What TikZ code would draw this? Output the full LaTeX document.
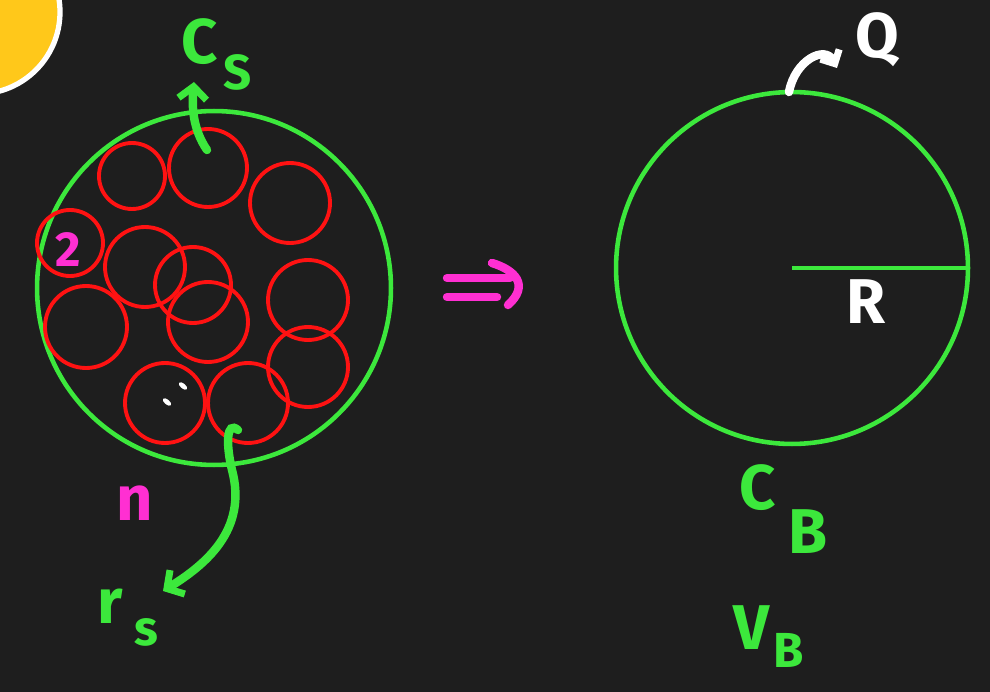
\documentclass[tikz,border=0pt]{standalone}
\usepackage{fontspec}
\setmainfont{Fira Sans}
\usepackage{tikz}
\usetikzlibrary{arrows.meta}

\definecolor{board}{HTML}{1E1E1E}
\definecolor{chalkgreen}{HTML}{3CE83C}
\definecolor{chalkred}{HTML}{FF1212}
\definecolor{chalkpink}{HTML}{FF2FD2}
\definecolor{sunyellow}{HTML}{FFC81A}

\tikzset{
  shell/.style={draw=chalkgreen, line width=2.6pt, circle, inner sep=0pt},
  ball/.style={chalkred, line width=2.2pt},
  pen/.style={line width=4.8pt, line cap=round},
  tip/.style={-{Straight Barb[length=7pt, width=16pt, line width=4pt]}},
  biglbl/.style={font=\bfseries\fontsize{36}{40}\selectfont, inner sep=0pt},
  sublbl/.style={font=\bfseries\fontsize{28}{32}\selectfont, inner sep=0pt},
}

\begin{document}
\begin{tikzpicture}[x=0.02cm, y=-0.02cm]
\fill[board] (0,0) rectangle (990,692);
\useasboundingbox (0,0) rectangle (990,692);
\begin{scope}
\clip (0,0) rectangle (990,692);
\draw[white, line width=3pt, fill=sunyellow] (-22,12) circle[radius=82];
\end{scope}

% many small spheres inside one cloud
\node[shell, minimum size=7.08cm] (cloud) at (214,288) {};
\foreach \x/\y/\r in {132/176/33, 208/168/39, 290/203/40, 70/243/33, 145/267/40,
  193/285/38, 208/322/40, 308/300/40, 86/327/41, 308/367/40, 165/403/40, 248/403/40}
  \draw[ball] (\x,\y) circle[radius=\r];
\node[chalkpink, sublbl] (two) at (68,250) {2};
\fill[white, rotate around={-40:(167,402)}] (167,402) ellipse[x radius=5, y radius=2.5];
\fill[white, rotate around={-40:(183,386)}] (183,386) ellipse[x radius=5, y radius=2.5];

\node[chalkgreen, biglbl] (cs) at (200,42) {C};
\node[chalkgreen, sublbl] (cssub) at (238,72) {S};
\coordinate (cstop) at (207,150);
\coordinate (csend) at (194,82);
\draw[chalkgreen, pen, tip] (cstop) .. controls (192,128) and (192,105) .. (csend);

\node[chalkpink, biglbl] (n) at (135,503) {n};
\coordinate (rstop) at (238,430);
\coordinate (rsend) at (163,591);
\draw[chalkgreen, pen, tip] (rstop) .. controls (226,420) and (226,445) .. (232,470)
  .. controls (248,530) and (205,565) .. (rsend);
\node[chalkgreen, biglbl] (rs) at (110,606) {r};
\node[chalkgreen, sublbl] (rssub) at (146,632) {s};

% implies
\draw[chalkpink, pen] (447,278) -- (510,278);
\draw[chalkpink, pen] (447,297) -- (497,297);
\draw[chalkpink, pen] (492,263) .. controls (515,270) and (530,285) .. (508,305);

% one big sphere
\node[shell, minimum size=7.04cm] (big) at (792,268) {};
\coordinate (mid) at (792,268);
\draw[chalkgreen, line width=2.6pt] (mid) -- (big.east);
\node[white, biglbl] (rad) at (866,302) {R};
\coordinate (qfoot) at (789,92);
\coordinate (qend) at (837,68);
\draw[white, pen, -{Straight Barb[length=6pt, width=12pt, line width=4pt]}]
  (qfoot) .. controls (795,60) and (825,45) .. (qend);
\node[white, biglbl] (q) at (877,40) {Q};

\node[chalkgreen, biglbl] (cb) at (758,488) {C};
\node[chalkgreen, biglbl] (cbsub) at (808,532) {B};
\node[chalkgreen, biglbl] (vb) at (752,628) {V};
\node[chalkgreen, sublbl] (vbsub) at (789,650) {B};
\end{tikzpicture}
\end{document}
